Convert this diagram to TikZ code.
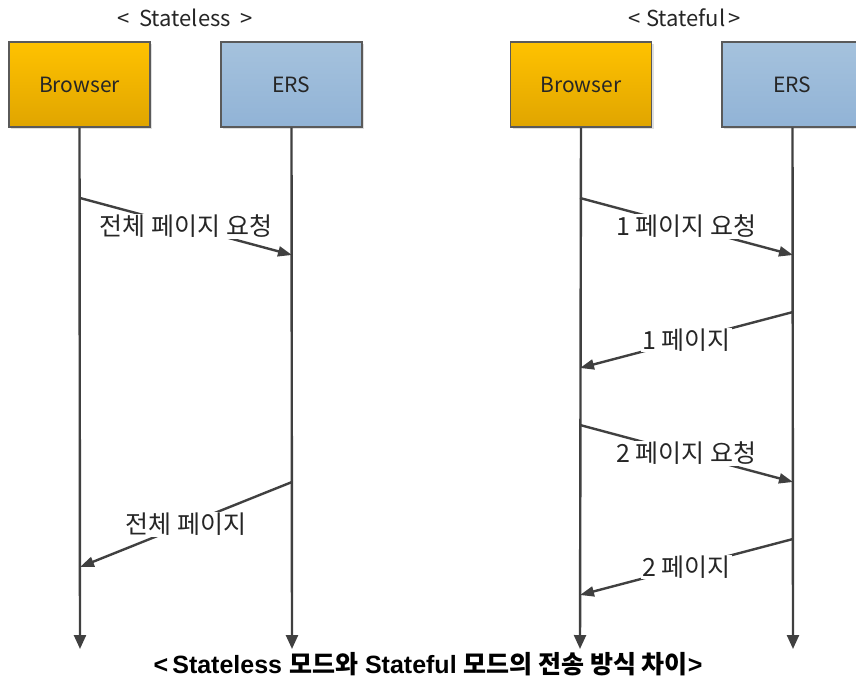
\documentclass[tikz,border=0pt]{standalone}
\usepackage{fontspec}
\setmainfont{Noto Sans CJK KR}
\newfontfamily\capl{Liberation Sans}
\newfontfamily\capk{Noto Sans CJK KR}
\usetikzlibrary{arrows.meta,shadows}
\definecolor{brtop}{HTML}{FFC200}
\definecolor{brbot}{HTML}{E0A500}
\definecolor{ertop}{HTML}{A5C2DD}
\definecolor{erbot}{HTML}{91B3D6}
\definecolor{boxline}{HTML}{5A5A5A}
\definecolor{linec}{HTML}{404040}
\definecolor{textc}{HTML}{262626}
\tikzset{
  box/.style={draw=boxline, line width=1.3pt, minimum width=141pt, minimum height=85pt,
    inner sep=0pt, font=\fontsize{21}{24}\selectfont, text=textc,
    drop shadow={shadow xshift=2pt, shadow yshift=-2pt, opacity=0.25, fill=gray}},
  browser/.style={box, top color=brtop, bottom color=brbot},
  ers/.style={box, top color=ertop, bottom color=erbot},
  life/.style={draw=linec, line width=2.4pt, -{Triangle[length=14pt, width=12pt]}},
  msg/.style={draw=linec, line width=2.4pt, -{Triangle[length=14pt, width=10pt]}},
  lbl/.style={fill=white, inner sep=1pt, font=\fontsize{25}{29}\selectfont, text=textc},
  ttl/.style={font=\fontsize{22}{25}\selectfont, text=textc, inner sep=0pt}
}
\begin{document}
\begin{tikzpicture}[x=1pt,y=-1pt]
\useasboundingbox (0,0) rectangle (856,680);
\fill[white] (0,0) rectangle (856,680);
% titles
\node[ttl] (t1) at (185,18) {<\ \ Stateless\ \ >};
\node[ttl] (t2) at (685,18) {<\ Stateful\,>};
% boxes
\node[browser] (b1) at (79.5,84.5) {Browser};
\node[ers] (e1) at (291.5,84.5) {ERS};
\node[browser] (b2) at (581,84.5) {Browser};
\node[ers] (e2) at (792.5,84.5) {ERS};
% lifeline ends
\coordinate (b1end) at (80,649);
\coordinate (e1end) at (292,649);
\coordinate (b2end) at (580,649);
\coordinate (e2end) at (793,649);
\draw[life] (b1.south) -- (b1end);
\draw[life] (e1.south) -- (e1end);
\draw[life] (b2.south) -- (b2end);
\draw[life] (e2.south) -- (e2end);
% stateless messages
\coordinate (s1a) at (80,198); \coordinate (s1b) at (292,255);
\coordinate (s2a) at (292,482); \coordinate (s2b) at (80,567);
\draw[msg] (s1a) -- node[lbl] (l1) {전체 페이지 요청} (s1b);
\draw[msg] (s2a) -- node[lbl] (l2) {전체 페이지} (s2b);
% stateful messages
\coordinate (f1a) at (580,198); \coordinate (f1b) at (793,255);
\coordinate (f2a) at (793,312); \coordinate (f2b) at (580,368);
\coordinate (f3a) at (580,425); \coordinate (f3b) at (793,482);
\coordinate (f4a) at (793,539); \coordinate (f4b) at (580,595);
\draw[msg] (f1a) -- node[lbl] (l3) {1 페이지 요청} (f1b);
\draw[msg] (f2a) -- node[lbl] (l4) {1 페이지} (f2b);
\draw[msg] (f3a) -- node[lbl] (l5) {2 페이지 요청} (f3b);
\draw[msg] (f4a) -- node[lbl] (l6) {2 페이지} (f4b);
% caption
\node[inner sep=0pt, text=black, font=\fontsize{25}{28}\selectfont\bfseries] (cap) at (428,664)
  {{\capl <\,Stateless }{\capk 모드와}{\capl{} Stateful }{\capk 모드의 전송 방식 차이}{\capl >}};
\end{tikzpicture}
\end{document}
